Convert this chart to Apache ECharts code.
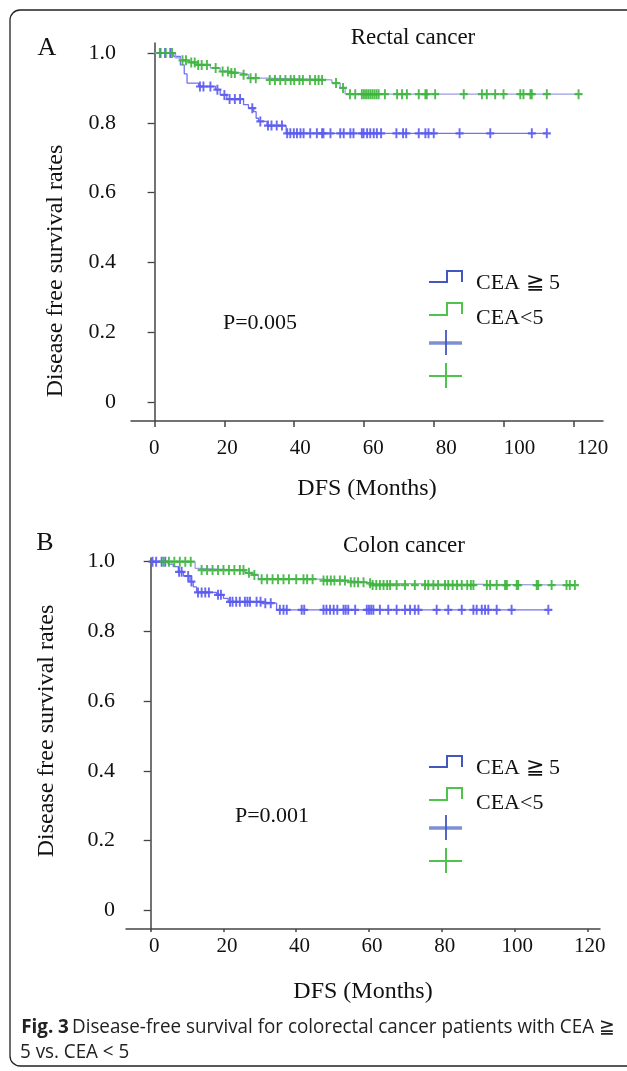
<!DOCTYPE html>
<html>
<head>
<meta charset="utf-8">
<script src="https://cdn.jsdelivr.net/npm/echarts@6/dist/echarts.min.js"></script>
<style>
html,body{margin:0;padding:0;background:#fff;}
#chart{width:627px;height:1071px;}
</style>
</head>
<body>
<div id="chart"></div>
<script>
// ---------- DATA ----------
const xTickValues = [0, 20, 40, 60, 80, 100, 120];
const yTickValues = [0, 0.2, 0.4, 0.6, 0.8, 1.0];

// Panel A: Rectal cancer
const rectalHighTime = [0, 5.5, 7.4, 8.5, 9.3, 12.6, 17.5, 18.8, 20.7, 25.5, 26.9, 28.4, 29.1, 29.8, 32.2, 37.7, 112.4];
const rectalHighSurv = [1.0, 0.99, 0.966, 0.94, 0.914, 0.904, 0.895, 0.88, 0.868, 0.852, 0.842, 0.832, 0.813, 0.804, 0.792, 0.77, 0.77];
const rectalHighCensor = [1.7, 3, 4.5, 13, 14, 16, 18, 20, 21.5, 23, 24.5, 28, 30.3, 32.5, 33.5, 35, 36.5, 38, 38.9, 39.9, 40.8, 41.8, 42.7, 44.6, 46.5, 48, 48.4, 50.4, 53.2, 54.2, 56.1, 57, 59.4, 59.9, 60.9, 61.8, 62.8, 63.7, 64.9, 69.3, 71.2, 72.1, 75.7, 77.6, 78.5, 80, 87.4, 96.2, 108.1, 112.4];

const rectalLowTime = [0, 6, 7.4, 9.7, 12.1, 16, 18.8, 21.7, 24.6, 26.9, 32.2, 50.8, 53.2, 54.6, 121.5];
const rectalLowSurv = [1.0, 0.986, 0.979, 0.973, 0.966, 0.957, 0.947, 0.943, 0.938, 0.928, 0.923, 0.914, 0.9, 0.882, 0.882];
const rectalLowCensor = [1.5, 3.2, 5, 8, 9, 10.5, 11.5, 12.5, 13.5, 15, 17.5, 19.5, 21, 22, 23, 25.5, 27.5, 29, 33, 34.5, 36, 37.5, 39, 40, 41.5, 42.5, 44.5, 46, 47, 48, 52, 54, 56, 57.5, 59.4, 60, 60.6, 61.2, 61.8, 62.4, 63, 63.6, 64.2, 66, 69.5, 70.9, 72.3, 75.7, 77.6, 78, 80.4, 88.6, 93.8, 95.2, 97.6, 100, 104.8, 105.7, 107.7, 108.1, 112.4, 121.5];

// Panel B: Colon cancer
const colonHighTime = [0, 4.8, 6.2, 7.6, 9, 10.8, 11.7, 12.6, 18.1, 20, 21.3, 30.5, 34.6, 109.3];
const colonHighSurv = [1.0, 0.993, 0.986, 0.971, 0.959, 0.943, 0.928, 0.912, 0.905, 0.895, 0.885, 0.881, 0.862, 0.862];
const colonHighCensor = [0.5, 1.5, 3, 4, 7.8, 8.5, 10.3, 11.2, 13, 14, 15, 16, 18.5, 19.3, 21.8, 22.5, 23.5, 24.5, 25.9, 26.6, 27.3, 29.1, 30.2, 31.5, 33, 35.5, 36.5, 37.4, 41.5, 42.2, 47.5, 48.3, 49.3, 50.3, 51.3, 53, 53.6, 54.3, 56.2, 59.4, 60, 60.6, 61.2, 63, 65.3, 67.6, 69.9, 71.3, 72.6, 73.6, 78.6, 81.8, 85.5, 88.7, 89.6, 91, 91.9, 92.8, 95.1, 99.2, 109.3];

const colonLowTime = [0, 12.2, 13.1, 25.9, 28.2, 29.6, 47, 53.9, 59.4, 60.7, 116.6];
const colonLowSurv = [1.0, 0.981, 0.976, 0.968, 0.962, 0.95, 0.946, 0.941, 0.938, 0.933, 0.933];
const colonLowCensor = [3.5, 5, 6.5, 8, 9.5, 11, 14, 15.5, 17, 18.5, 20, 21.5, 23, 24.5, 25.5, 27, 28.5, 30.5, 32, 33.5, 35, 36.5, 38, 40, 42, 43, 44.5, 47.5, 48.5, 49.5, 50.5, 52, 53.4, 55, 56, 57, 58.5, 60.3, 61, 62, 63, 64, 65, 65.8, 67.6, 69.9, 72.6, 75.4, 76.3, 77.7, 79, 80.9, 81.8, 83, 84.2, 85.5, 87, 88, 88.7, 92.4, 93.3, 95.1, 97.4, 97.9, 100.6, 101, 106.1, 106.5, 110.2, 114.3, 115.2, 116.6];

// ---------- HELPERS ----------
function stepData(t, s) { return t.map((v, i) => [v, s[i]]); }
function survAt(t, s, x) { let v = s[0]; for (let i = 0; i < t.length; i++) { if (t[i] <= x) v = s[i]; } return v; }
function censorData(c, t, s) { return c.map(x => [x, survAt(t, s, x)]); }

const BLUE_LINE = '#7272ee';
const BLUE_MARK = '#5a5af0';
const GREEN_LINE = '#9a9ee0';
const GREEN_MARK = '#3db53d';
const CROSS = 'path://M0,3.9H10V6.1H0Z M3.8,0H6.2V10H3.8Z';
const SERIF = '"Liberation Serif", "Times New Roman", serif';
const SANS = '"Open Sans", sans-serif';

function kmSeries(name, t, s, c, gi, lineColor, markColor) {
  return [
    { name: name, type: 'line', step: 'end', xAxisIndex: gi * 2, yAxisIndex: gi,
      data: stepData(t, s), symbol: 'none', showSymbol: false,
      lineStyle: { color: lineColor, width: 1.3 }, z: 2, silent: true },
    { name: name + ' censored', type: 'scatter', xAxisIndex: gi * 2, yAxisIndex: gi,
      data: censorData(c, t, s), symbol: CROSS, symbolSize: [8, 10],
      itemStyle: { color: markColor, opacity: 0.9 }, z: 3, silent: true }
  ];
}

function yAxisDef(gi, min, max, margin) {
  return {
    gridIndex: gi, type: 'value', min: min, max: max,
    axisLine: { show: true, lineStyle: { color: '#444', width: 1.5 } },
    axisTick: { show: true, customValues: yTickValues, length: 7, inside: false, lineStyle: { color: '#444', width: 1.3 } },
    axisLabel: { customValues: yTickValues, formatter: v => (v === 0 ? '0' : v.toFixed(1)),
      fontFamily: SERIF, fontSize: 22, color: '#111', margin: margin },
    splitLine: { show: false }
  };
}
function xTickAxis(gi, min, max, tickLen) {
  return {
    gridIndex: gi, type: 'value', min: min, max: max, position: 'bottom',
    axisLine: { show: true, onZero: false, lineStyle: { color: '#444', width: 1.5 } },
    axisTick: { show: true, customValues: xTickValues, length: tickLen, lineStyle: { color: '#444', width: 1.5 } },
    axisLabel: { show: false }, splitLine: { show: false }
  };
}
function xLabelAxis(gi, min, max, margin, nameGap) {
  return {
    gridIndex: gi, type: 'value', min: min, max: max, position: 'bottom',
    axisLine: { show: false, onZero: false }, axisTick: { show: false },
    axisLabel: { customValues: xTickValues, fontFamily: SERIF, fontSize: 21, color: '#111', margin: margin },
    splitLine: { show: false },
    name: 'DFS (Months)', nameLocation: 'middle', nameGap: nameGap,
    nameTextStyle: { fontFamily: SERIF, fontSize: 24, color: '#111' }
  };
}

function legendGraphics(dy) {
  const g = [];
  g.push({ type: 'polyline', shape: { points: [[429, 282 + dy], [447, 282 + dy], [447, 271 + dy], [462, 271 + dy], [462, 282 + dy]] },
    style: { stroke: '#4456c0', lineWidth: 2, fill: null } });
  g.push({ type: 'polyline', shape: { points: [[429, 315 + dy], [447, 315 + dy], [447, 303 + dy], [462, 303 + dy], [462, 314 + dy]] },
    style: { stroke: '#4ec44e', lineWidth: 2, fill: null } });
  g.push({ type: 'line', shape: { x1: 429, y1: 343 + dy, x2: 462, y2: 343 + dy }, style: { stroke: '#7f8fd4', lineWidth: 3.5 } });
  g.push({ type: 'line', shape: { x1: 446, y1: 330 + dy, x2: 446, y2: 355 + dy }, style: { stroke: '#4456c0', lineWidth: 1.8 } });
  g.push({ type: 'line', shape: { x1: 429, y1: 376 + dy, x2: 462, y2: 376 + dy }, style: { stroke: '#4ec44e', lineWidth: 2 } });
  g.push({ type: 'line', shape: { x1: 446, y1: 363 + dy, x2: 446, y2: 388 + dy }, style: { stroke: '#4ec44e', lineWidth: 2 } });
  g.push({ type: 'text', x: 476, y: 283 + dy, style: { text: 'CEA ≧ 5', font: '22px ' + SERIF, fill: '#111', textVerticalAlign: 'middle' } });
  g.push({ type: 'text', x: 476, y: 318 + dy, style: { text: 'CEA<5', font: '22px ' + SERIF, fill: '#111', textVerticalAlign: 'middle' } });
  return g;
}

const chart = echarts.init(document.getElementById('chart'), null, { renderer: 'canvas' });
const option = {
  animation: false,
  backgroundColor: '#fff',
  title: [
    { text: 'Rectal cancer', left: 408, top: 21, textAlign: 'center',
      textStyle: { fontFamily: SERIF, fontSize: 23, fontWeight: 'normal', color: '#111' } },
    { text: 'Colon cancer', left: 399, top: 529, textAlign: 'center',
      textStyle: { fontFamily: SERIF, fontSize: 23, fontWeight: 'normal', color: '#111' } }
  ],
  grid: [
    { left: 131, top: 43, width: 472, height: 378, containLabel: false },
    { left: 126, top: 558, width: 474, height: 371, containLabel: false }
  ],
  xAxis: [
    xTickAxis(0, -6.76, 128.5, 6),
    xLabelAxis(0, -6.38, 122.9, 17, 56),
    xTickAxis(1, -6.79, 123.5, 3),
    xLabelAxis(1, -7.8, 122.8, 7, 51)
  ],
  yAxis: [
    yAxisDef(0, -0.0545, 1.0287, 15),
    yAxisDef(1, -0.0533, 1.0106, 11)
  ],
  series: [].concat(
    kmSeries('CEA ≧ 5 (rectal)', rectalHighTime, rectalHighSurv, rectalHighCensor, 0, BLUE_LINE, BLUE_MARK),
    kmSeries('CEA<5 (rectal)', rectalLowTime, rectalLowSurv, rectalLowCensor, 0, GREEN_LINE, GREEN_MARK),
    kmSeries('CEA ≧ 5 (colon)', colonHighTime, colonHighSurv, colonHighCensor, 1, BLUE_LINE, BLUE_MARK),
    kmSeries('CEA<5 (colon)', colonLowTime, colonLowSurv, colonLowCensor, 1, GREEN_LINE, GREEN_MARK)
  ),
  graphic: [].concat(
    [
      { type: 'rect', shape: { x: 10, y: 10, width: 640, height: 1056, r: 10 },
        style: { stroke: '#222', lineWidth: 1.3, fill: null }, z: 0 },
      { type: 'text', x: 56, y: 271, rotation: Math.PI / 2,
        style: { text: 'Disease free survival rates', font: '24px ' + SERIF, fill: '#111', textAlign: 'center', textVerticalAlign: 'middle' } },
      { type: 'text', x: 47, y: 731, rotation: Math.PI / 2,
        style: { text: 'Disease free survival rates', font: '24px ' + SERIF, fill: '#111', textAlign: 'center', textVerticalAlign: 'middle' } },
      { type: 'text', x: 47, y: 48, style: { text: 'A', font: '26px ' + SERIF, fill: '#111', textAlign: 'center', textVerticalAlign: 'middle' } },
      { type: 'text', x: 45, y: 543, style: { text: 'B', font: '26px ' + SERIF, fill: '#111', textAlign: 'center', textVerticalAlign: 'middle' } },
      { type: 'text', x: 260, y: 323, style: { text: 'P=0.005', font: '22px ' + SERIF, fill: '#111', textAlign: 'center', textVerticalAlign: 'middle' } },
      { type: 'text', x: 272, y: 816, style: { text: 'P=0.001', font: '22px ' + SERIF, fill: '#111', textAlign: 'center', textVerticalAlign: 'middle' } },
      { type: 'text', x: 20, y: 1027, scaleX: 0.94, originX: 20, originY: 1027,
        style: { rich: { b: { fontWeight: 'bold', fontFamily: SANS, fontSize: 20, fill: '#222' },
          n: { fontFamily: SANS, fontSize: 20, fill: '#222' } },
          text: '{b|Fig. 3} {n|Disease-free survival for colorectal cancer patients with CEA ≧}', textVerticalAlign: 'middle' } },
      { type: 'text', x: 20, y: 1052, scaleX: 0.94,
        style: { text: '5 vs. CEA < 5', font: '20px ' + SANS, fill: '#222', textVerticalAlign: 'middle' } }
    ],
    legendGraphics(0),
    legendGraphics(485)
  )
};
chart.setOption(option);
</script>
</body>
</html>
